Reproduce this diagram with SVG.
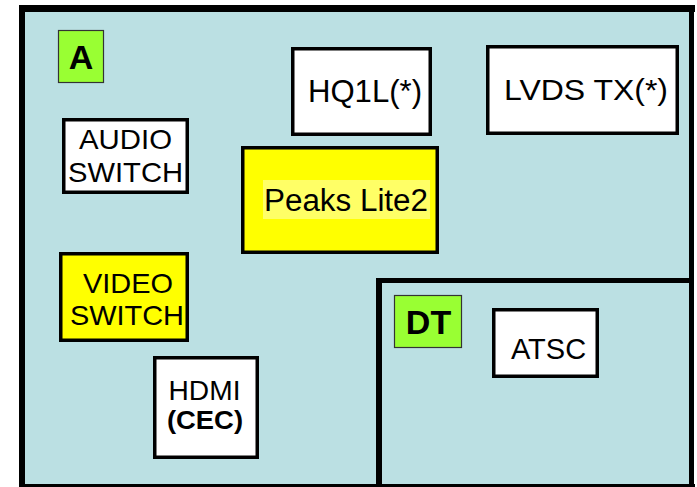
<svg xmlns="http://www.w3.org/2000/svg" width="697" height="487" viewBox="0 0 697 487">
<style>
text{font-family:"Liberation Sans",Arial,sans-serif;fill:#000;text-anchor:middle}
.b{font-weight:bold}
.box{stroke:#000;stroke-width:3.5}
.w{fill:#fff}
.y{fill:#ffff00}
.g{fill:#99ff33;stroke:#333;stroke-width:1.2}
.frame{stroke:#000;fill:none}
</style>
<rect x="22" y="8" width="670" height="477" fill="#bbe0e3"/>
<g id="frame">
<line class="frame" x1="19" y1="8.5" x2="695" y2="8.5" stroke-width="7"/>
<line class="frame" x1="22" y1="5" x2="22" y2="487" stroke-width="6"/>
<line class="frame" x1="691.5" y1="5" x2="691.5" y2="487" stroke-width="5"/>
<line class="frame" x1="19" y1="485.5" x2="695" y2="485.5" stroke-width="3"/>
</g>
<g id="dt-region">
<line class="frame" x1="379" y1="278" x2="379" y2="484" stroke-width="6"/>
<line class="frame" x1="376" y1="280.5" x2="692" y2="280.5" stroke-width="5"/>
</g>
<g id="label-a">
<rect class="g" x="58.5" y="30.5" width="45" height="52"/>
<text class="b" x="81" y="69" font-size="34">A</text>
</g>
<g id="audio-switch">
<rect class="box w" x="63.75" y="119.75" width="123.5" height="72.5"/>
<text x="125.5" y="149" font-size="28" textLength="93" lengthAdjust="spacingAndGlyphs">AUDIO</text>
<text x="125.5" y="182" font-size="28" textLength="115" lengthAdjust="spacingAndGlyphs">SWITCH</text>
</g>
<g id="hq1l">
<rect class="box w" x="292.75" y="48.75" width="137.5" height="85.5"/>
<text x="365" y="102" font-size="31" textLength="114" lengthAdjust="spacingAndGlyphs">HQ1L(*)</text>
</g>
<g id="lvds-tx">
<rect class="box w" x="487.75" y="46.75" width="189.5" height="86.5"/>
<text x="586" y="100" font-size="30" textLength="164" lengthAdjust="spacingAndGlyphs">LVDS TX(*)</text>
</g>
<g id="peaks-lite2">
<rect class="box y" x="242.75" y="147.75" width="194.5" height="104.5"/>
<rect x="263" y="180" width="167" height="39" fill="#ffff66"/>
<text x="346" y="211" font-size="31" textLength="164" lengthAdjust="spacingAndGlyphs">Peaks Lite2</text>
</g>
<g id="video-switch">
<rect class="box y" x="60.75" y="253.75" width="126.5" height="86.5"/>
<text x="128" y="293" font-size="28" textLength="90" lengthAdjust="spacingAndGlyphs">VIDEO</text>
<text x="127" y="325" font-size="28" textLength="114" lengthAdjust="spacingAndGlyphs">SWITCH</text>
</g>
<g id="hdmi">
<rect class="box w" x="154.75" y="357.75" width="102.5" height="99.5"/>
<text x="204.5" y="400" font-size="28" textLength="72" lengthAdjust="spacingAndGlyphs">HDMI</text>
<text class="b" x="205" y="429" font-size="25" textLength="76" lengthAdjust="spacingAndGlyphs">(CEC)</text>
</g>
<g id="label-dt">
<rect class="g" x="394.5" y="295.5" width="67" height="52"/>
<text class="b" x="428.5" y="334" font-size="34">DT</text>
</g>
<g id="atsc">
<rect class="box w" x="493.75" y="309.75" width="103.5" height="66.5"/>
<text x="548.5" y="359" font-size="29">ATSC</text>
</g>
</svg>
